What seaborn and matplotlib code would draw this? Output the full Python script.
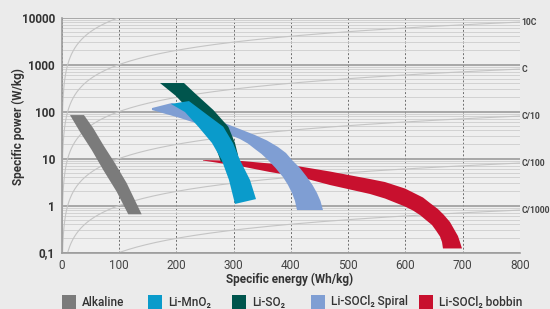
import matplotlib
matplotlib.use("Agg")
import matplotlib.pyplot as plt
import seaborn as sns
import numpy as np
import pandas as pd
from matplotlib.patches import Rectangle
from matplotlib.ticker import LogLocator, NullFormatter

# ---------------- data ----------------
x_ticks = [0, 100, 200, 300, 400, 500, 600, 700, 800]
y_ticks = [0.1, 1, 10, 100, 1000, 10000]
y_tick_labels = ["0,1", "1", "10", "100", "1000", "10000"]

rates = [100, 10, 1, 0.1, 0.01, 0.001]
rate_labels = ["", "10C", "C", "C/10", "C/100", "C/1000"]

series_names = ["Alkaline", "Li-MnO\u2082", "Li-SO\u2082", "Li-SOCl\u2082 Spiral", "Li-SOCl\u2082 bobbin"]
series_colors = ["#7b7b7b", "#0a9bcb", "#00554d", "#7f9ed3", "#c8102e"]

# Alkaline band (one edge, other edge)
alk_a_e = [14, 31.4, 51.9, 72.1, 95.5, 115.8]
alk_a_p = [84, 37, 15.2, 5.7, 1.97, 0.65]
alk_b_e = [38.4, 54.7, 72.1, 92.6, 113, 139.2]
alk_b_p = [84, 44, 19.4, 7.9, 3.0, 0.65]

# Li-MnO2 band
mno2_a_e = [190.4, 214.8, 238.1, 262, 279, 291.7, 302.2]
mno2_a_p = [145, 97.5, 47.5, 21.4, 9.3, 3.5, 1.08]
mno2_b_e = [221.8, 258.5, 281.7, 298.7, 310.9, 328.4, 338.9]
mno2_b_p = [167, 77, 47.5, 21.4, 9.3, 3.5, 1.37]

# Li-SO2 band
so2_a_e = [171.2, 199.1, 227.1, 249.8, 267.2, 277.7]
so2_a_p = [404, 214, 93, 44.6, 19.4, 8.4]
so2_b_e = [213.1, 232.3, 264.3, 290.5, 302.2, 307.4]
so2_b_p = [404, 244, 108, 47.5, 21.4, 11.9]

# Li-SOCl2 spiral band
spi_a_e = [157.2, 206.1, 249.8, 284.7, 310.9, 324.9, 337.1, 348.5, 359.8, 373.0, 386, 394.8, 401.7, 407.0, 410.5]
spi_a_p = [107.6, 72.8, 49.1, 34.9, 26, 20.8, 15.9, 12.5, 9.3, 6.28, 4.04, 2.73, 1.85, 1.25, 0.80]
spi_b_e = [157.2, 192.1, 241.0, 288.2, 337.1, 358.1, 377.3, 391.3, 401.7, 415.7, 427.9, 437.6, 445.4, 451.5, 455.9]
spi_b_p = [118.6, 152, 97.6, 54.2, 31.6, 24.2, 17.6, 13.1, 9.3, 6.28, 4.04, 2.73, 1.85, 1.25, 0.80]

# Li-SOCl2 bobbin band
bob_a_e = [246.3, 314.4, 363.3, 415.7, 468.1, 538.0, 564.2, 599.1, 613.1, 625.3, 635.8, 646.3, 653.3, 660.3, 663.8, 665.5]
bob_a_p = [9.06, 6.76, 5.16, 4.04, 2.73, 1.76, 1.41, 0.953, 0.783, 0.628, 0.491, 0.385, 0.294, 0.219, 0.167, 0.122]
bob_b_e = [246.3, 314.4, 363.3, 415.7, 468.1, 538.0, 564.2, 599.1, 630.6, 642.8, 656.8, 667.2, 677.7, 684.7, 691.7, 695.2, 698.7]
bob_b_p = [9.3, 8.85, 7.83, 6.76, 5.29, 3.66, 3.16, 2.30, 1.48, 1.13, 0.84, 0.628, 0.446, 0.316, 0.224, 0.167, 0.122]

# ---------------- style ----------------
sns.set_theme(style="white")
plt.rcParams['font.family'] = ['Roboto', 'DejaVu Sans']
NARROW = ['Liberation Sans Narrow', 'Roboto', 'DejaVu Sans']
TXT = "#333333"

fig = plt.figure(figsize=(5.5, 3.09), dpi=100, facecolor="#ebebeb")
ax = fig.add_axes([0.1127, 0.1828, 0.8327, 0.7605])
ax.set_facecolor("#efefef")
ax.set_yscale("log")
ax.set_xlim(0, 800)
ax.set_ylim(0.1, 10000)

# grid
ax.yaxis.set_minor_locator(LogLocator(base=10, subs=np.arange(2, 10)))
ax.yaxis.set_minor_formatter(NullFormatter())
ax.grid(which="minor", axis="y", color="#cdcdcd", lw=0.6, zorder=0)
ax.grid(which="major", axis="y", color="#9c9c9c", lw=1.2, zorder=0)
ax.set_xticks(x_ticks)
ax.grid(which="major", axis="x", color="#6e6e6e", lw=0.7, ls=(0, (2, 2)), zorder=0)
ax.set_axisbelow(True)

# C-rate guide curves (P = rate * E)
guide_e = np.geomspace(0.01, 800, 400)
for r in rates:
    df = pd.DataFrame({"e": guide_e, "p": guide_e * r})
    sns.lineplot(data=df, x="e", y="p", ax=ax, color="#c4c4c4", lw=0.8, zorder=1, legend=False)
for r, lab in zip(rates, rate_labels):
    if lab:
        ax.text(803, r * 800, lab, ha="left", va="center", fontsize=6.2, color="#444444",
                fontweight="bold", family=NARROW, clip_on=False)

def band(a_e, a_p, b_e, b_p, color, z):
    xs = list(a_e) + list(b_e)[::-1]
    ys = list(a_p) + list(b_p)[::-1]
    ax.fill(xs, ys, color=color, lw=0, zorder=z)

band(alk_a_e, alk_a_p, alk_b_e, alk_b_p, series_colors[0], 3)
band(bob_a_e, bob_a_p, bob_b_e, bob_b_p, series_colors[4], 3)
band(spi_a_e, spi_a_p, spi_b_e, spi_b_p, series_colors[3], 4)
band(so2_a_e, so2_a_p, so2_b_e, so2_b_p, series_colors[2], 5)
band(mno2_a_e, mno2_a_p, mno2_b_e, mno2_b_p, series_colors[1], 6)

# spines
for s in ["top", "right"]:
    ax.spines[s].set_visible(False)
for s in ["left", "bottom"]:
    ax.spines[s].set_color("#9c9c9c")
    ax.spines[s].set_linewidth(1.2)

# ticks
ax.set_yticks(y_ticks, y_tick_labels)
ax.tick_params(axis="y", which="major", length=3, width=1, color="#9c9c9c", pad=2,
               labelsize=8.5, labelcolor=TXT)
ax.tick_params(axis="y", which="minor", length=0)
for t in ax.get_yticklabels():
    t.set_fontweight("bold")
ax.set_xticks(x_ticks, [str(v) for v in x_ticks])
ax.tick_params(axis="x", length=0, pad=5, labelsize=8.5, labelcolor="#444444")
for t in ax.get_xticklabels():
    t.set_family(NARROW)

ax.set_xlabel("Specific energy (Wh/kg)", fontsize=8.5, fontweight="bold", color=TXT)
ax.set_ylabel("Specific power (W/kg)", fontsize=8.5, fontweight="bold", color=TXT)
ax.xaxis.set_label_coords(0.498, -0.113)
ax.xaxis.label.set_va("center")
ax.yaxis.set_label_coords(-0.096, 0.538)
ax.yaxis.label.set_va("center")

# legend (manual placement along bottom)
W, H = 550.0, 309.0
leg_x = [62, 148, 232, 311, 419]
for x0, name, col in zip(leg_x, series_names, series_colors):
    fig.patches.append(Rectangle((x0 / W, 0.0), 14 / W, 14 / H, transform=fig.transFigure,
                                 facecolor=col, edgecolor="none"))
    fig.text((x0 + 20) / W, (H - 302) / H, name, ha="left", va="center",
             fontsize=8.5, fontweight="medium", color=TXT)

fig.savefig("out.png", dpi=100, facecolor=fig.get_facecolor())
